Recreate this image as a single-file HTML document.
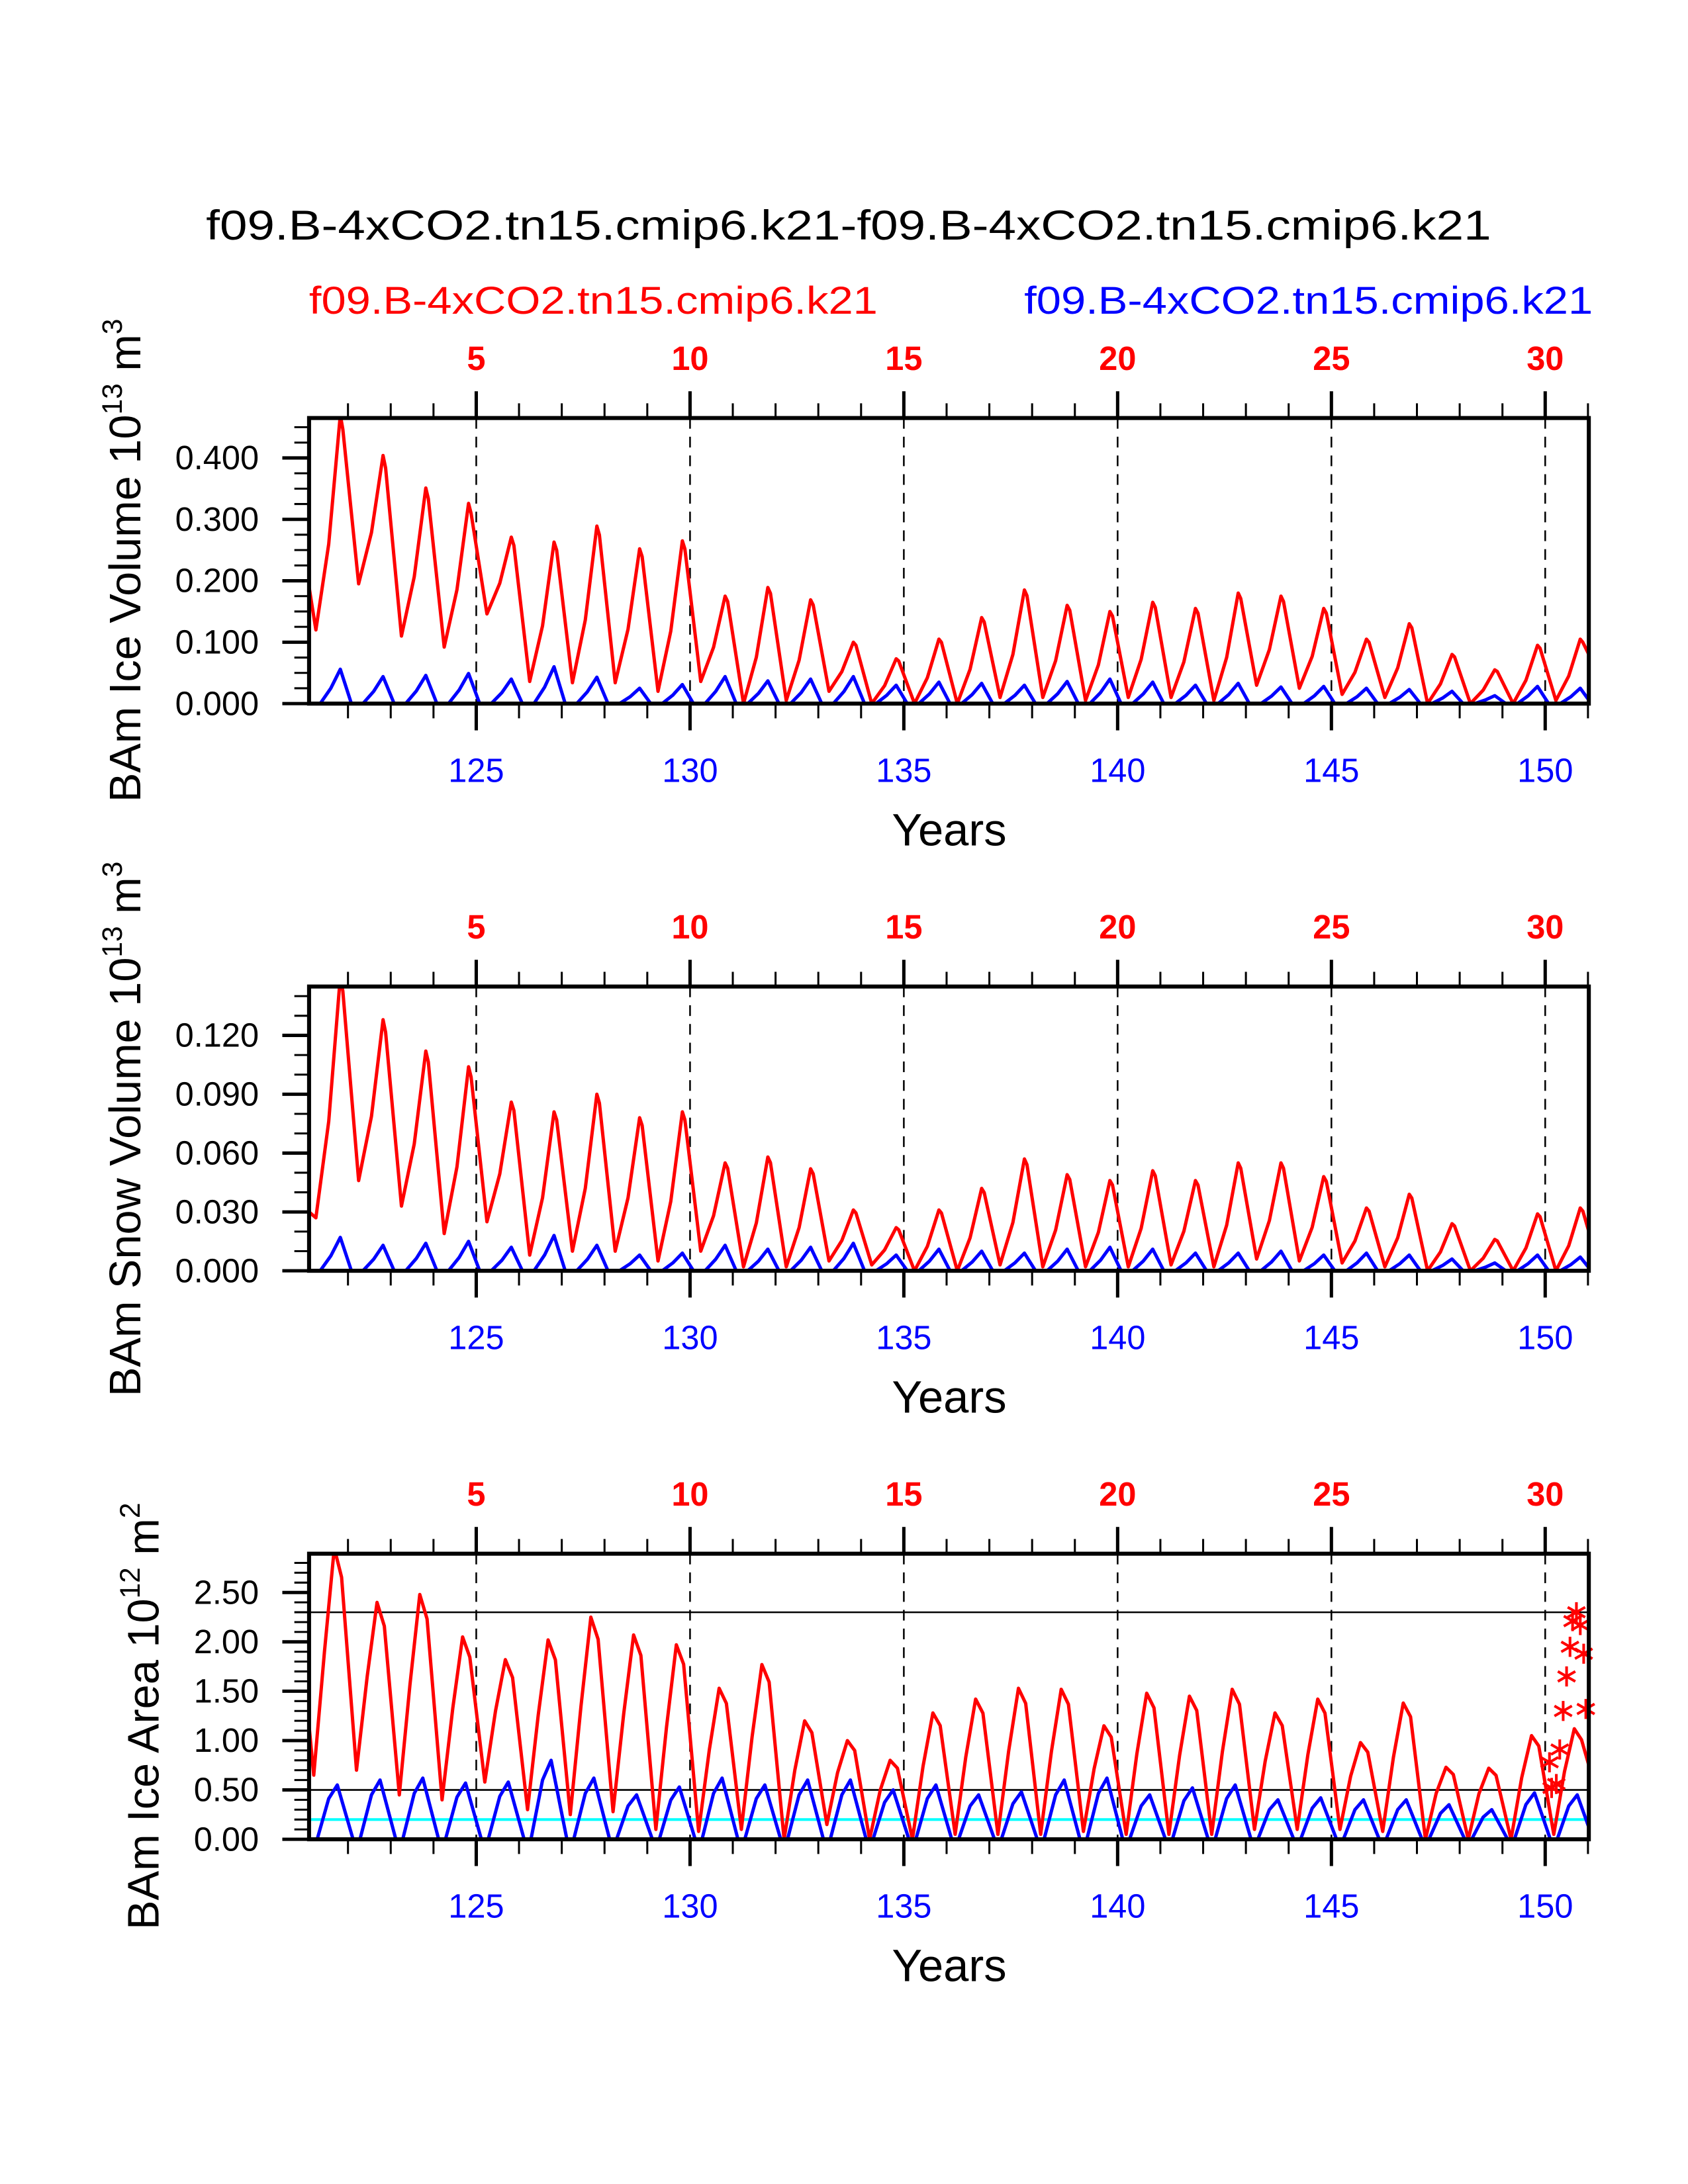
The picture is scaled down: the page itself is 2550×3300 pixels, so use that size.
<!DOCTYPE html>
<html><head><meta charset="utf-8"><style>
html,body{margin:0;padding:0;background:#fff}
svg{display:block;font-family:"Liberation Sans",Arial,sans-serif}
</style></head><body>
<svg id="chart" width="2550" height="3300" viewBox="0 0 2550 3300" xmlns="http://www.w3.org/2000/svg">
<g transform="scale(1.0106)">
<text x="308" y="358" font-size="62" textLength="1921" lengthAdjust="spacingAndGlyphs">f09.B-4xCO2.tn15.cmip6.k21-f09.B-4xCO2.tn15.cmip6.k21</text>
<text x="462" y="469" font-size="58" fill="#ff0000" textLength="850" lengthAdjust="spacingAndGlyphs">f09.B-4xCO2.tn15.cmip6.k21</text>
<text x="1531" y="469" font-size="58" fill="#0000ff" textLength="850" lengthAdjust="spacingAndGlyphs">f09.B-4xCO2.tn15.cmip6.k21</text>
<g id="panels"></g>
</g>
</svg>
<script>
// ---- data ----
const years = [121,122,123,124,125,126,127,128,129,130,131,132,133,134,135,136,137,138,139,140,141,142,143,144,145,146,147,148,149,150];
const volRedMin  = [0.12,0.195,0.11,0.092,0.146,0.036,0.034,0.034,0.02,0.036,0.0,0.005,0.02,0,0,0,0.01,0.01,0.005,0.01,0.01,0.005,0.03,0.025,0.015,0.01,0,0,0,0.005];
const volRedPeak = [0.47,0.404,0.351,0.326,0.271,0.263,0.289,0.252,0.265,0.175,0.189,0.169,0.10,0.073,0.105,0.14,0.185,0.16,0.15,0.165,0.155,0.18,0.175,0.155,0.105,0.13,0.08,0.055,0.095,0.105];
const volBluePeak= [0.056,0.044,0.046,0.049,0.040,0.060,0.043,0.025,0.031,0.044,0.037,0.040,0.044,0.030,0.035,0.033,0.030,0.036,0.040,0.035,0.030,0.033,0.027,0.028,0.025,0.023,0.020,0.013,0.028,0.025];
const volEnds = [0.19,0.08];
const snowRedMin  = [0.027,0.046,0.033,0.019,0.025,0.008,0.01,0.01,0.005,0.01,0.002,0.002,0.005,0.003,0,0,0.003,0.002,0.002,0.002,0.003,0.002,0.006,0.005,0.004,0.002,0,0,0,0];
const snowRedPeak = [0.15,0.128,0.112,0.104,0.086,0.081,0.090,0.078,0.081,0.055,0.058,0.052,0.031,0.022,0.031,0.042,0.057,0.049,0.046,0.051,0.046,0.055,0.055,0.048,0.032,0.039,0.024,0.016,0.029,0.032];
const snowBluePeak= [0.017,0.013,0.014,0.015,0.012,0.018,0.013,0.008,0.009,0.013,0.011,0.012,0.014,0.008,0.011,0.010,0.009,0.011,0.012,0.011,0.009,0.009,0.010,0.008,0.009,0.008,0.006,0.004,0.008,0.007];
const snowEnds = [0.03,0.02];
const areaRedMin  = [0.65,0.7,0.45,0.4,0.58,0.3,0.25,0.28,0.1,0.08,0.1,0.0,0.15,0,0,0.05,0.05,0.05,0.08,0.05,0.05,0.05,0.1,0.1,0.1,0.08,0,0,0,0.05];
const areaRedPeak = [2.95,2.4,2.48,2.05,1.82,2.02,2.25,2.07,1.97,1.53,1.77,1.2,1.0,0.8,1.28,1.42,1.53,1.52,1.15,1.48,1.45,1.52,1.28,1.42,0.98,1.38,0.73,0.72,1.05,1.12];
const areaBluePeak= [0.55,0.6,0.62,0.57,0.58,0.8,0.62,0.45,0.53,0.62,0.55,0.6,0.6,0.5,0.55,0.45,0.48,0.6,0.62,0.45,0.52,0.55,0.4,0.42,0.4,0.4,0.35,0.3,0.47,0.45];
const areaEnds = [1.15,0.75];
const starMonths = [150.10,150.15,150.26,150.34,150.42,150.50,150.58,150.64,150.73,150.82,150.90,150.95];
const starValues = [0.78,0.52,0.56,0.91,1.30,1.65,1.95,2.21,2.30,2.17,1.88,1.32];
const refLines = [2.3,0.5];
const cyanLevel = [0.2];
const topLabels = [5,10,15,20,25,30];
const bottomLabels = [125,130,135,140,145,150];

// ---- layout ----
const NS="http://www.w3.org/2000/svg";
const L=462,R=2375,X0=121.09,X1=151.02;
const xs=t=>L+(t-X0)/(X1-X0)*(R-L);
const root=document.getElementById('panels');
function el(tag,attrs,parent){const e=document.createElementNS(NS,tag);for(const k in attrs)e.setAttribute(k,attrs[k]);(parent||root).appendChild(e);return e;}

const panels=[
 {name:'ice-volume',top:625,bot:1052,ymax:0.465,major:[0,0.1,0.2,0.3,0.4],minor:0.025,fmt:v=>v.toFixed(3),
  redMin:volRedMin,redPeak:volRedPeak,bluePeak:volBluePeak,ends:volEnds,kind:'vol',ylab:'BAm Ice Volume 10',sup1:'13',unit:' m',sup2:'3',ylx:188,yly:838},
 {name:'snow-volume',top:1475,bot:1900,ymax:0.1449,major:[0,0.03,0.06,0.09,0.12],minor:0.01,fmt:v=>v.toFixed(3),
  redMin:snowRedMin,redPeak:snowRedPeak,bluePeak:snowBluePeak,ends:snowEnds,kind:'vol',ylab:'BAm Snow Volume 10',sup1:'13',unit:' m',sup2:'3',ylx:188,yly:1688},
 {name:'ice-area',top:2323,bot:2750,ymax:2.893,major:[0,0.5,1,1.5,2,2.5],minor:0.1,fmt:v=>v.toFixed(2),
  redMin:areaRedMin,redPeak:areaRedPeak,bluePeak:areaBluePeak,ends:areaEnds,kind:'area',ylab:'BAm Ice Area 10',sup1:'12',unit:' m',sup2:'2',ylx:215,yly:2566}
];

panels.forEach((p,pi)=>{
  const g=el('g',{});
  
  
  const ys=v=>p.bot-(v/p.ymax)*(p.bot-p.top);
  const clipId='clip'+pi;
  const cp=el('clipPath',{id:clipId},g); el('rect',{x:L,y:p.top,width:R-L,height:p.bot-p.top},cp);
  bottomLabels.forEach(yr=>{
    const d=el('line',{x1:xs(yr),x2:xs(yr),y1:p.top,y2:p.bot,stroke:'#000','stroke-width':2.5,'stroke-dasharray':'16,12'},g);
    
    
  });
  if(p.kind==='area'){
    refLines.forEach(v=>{const l=el('line',{x1:L,x2:R,y1:ys(v),y2:ys(v),stroke:'#000','stroke-width':2.5},g);
      
      });
    const c=el('line',{x1:L,x2:R,y1:ys(cyanLevel[0]),y2:ys(cyanLevel[0]),stroke:'#00ffff','stroke-width':4},g);
    
    
  }
  const red=[[X0,p.ends[0]]], blue=[[X0,0]];
  years.forEach((yr,i)=>{
    if(p.kind==='area'){
      red.push([yr+0.2,p.redMin[i]]); red.push([yr+0.45,(p.redMin[i]+p.redPeak[i])/2+0.1]);
      red.push([yr+0.68,p.redPeak[i]]); red.push([yr+0.85,p.redPeak[i]*0.9]);
      blue.push([yr+0.28,0]); blue.push([yr+0.55,p.bluePeak[i]*0.75]); blue.push([yr+0.75,p.bluePeak[i]]); blue.push([yr+1.12,0]);
    } else {
      red.push([yr+0.25,p.redMin[i]]); red.push([yr+0.55,(p.redMin[i]*0.6+p.redPeak[i]*0.4)]);
      red.push([yr+0.82,p.redPeak[i]]); red.push([yr+0.88,p.redPeak[i]*0.95]);
      blue.push([yr+0.35,0]); blue.push([yr+0.6,p.bluePeak[i]*0.45]); blue.push([yr+0.82,p.bluePeak[i]]); blue.push([yr+1.08,0]);
    }
  });
  red.push([X1,p.ends[1]]);
  const toD=a=>a.map((q,k)=>(k?'L':'M')+xs(q[0]).toFixed(1)+','+ys(q[1]).toFixed(1)).join('');
  const bl=el('path',{d:toD(blue),fill:'none',stroke:'#0000ff','stroke-width':5,'stroke-linejoin':'round','clip-path':'url(#'+clipId+')'},g);
  
  
  const rl=el('path',{d:toD(red),fill:'none',stroke:'#ff0000','stroke-width':5,'stroke-linejoin':'round','clip-path':'url(#'+clipId+')'},g);
  
  
  if(p.kind==='area'){
    starMonths.forEach((t,k)=>{
      const cx=xs(t), cy=ys(starValues[k]), r=15;
      let d='M'+(cx)+','+(cy-r)+'L'+cx+','+(cy+r);
      d+='M'+(cx-r*0.87)+','+(cy-r/2)+'L'+(cx+r*0.87)+','+(cy+r/2);
      d+='M'+(cx-r*0.87)+','+(cy+r/2)+'L'+(cx+r*0.87)+','+(cy-r/2);
      const s=el('path',{d:d,stroke:'#ff0000','stroke-width':4,fill:'none'},g);
      
      
    });
  }
  const fr=el('rect',{x:L,y:p.top,width:R-L,height:p.bot-p.top,fill:'none',stroke:'#000','stroke-width':6},g);
  
  
  for(let yr=122;yr<=151;yr++){
    const maj=yr%5===0, len=maj?40:22, w=maj?5:3;
    el('line',{x1:xs(yr),x2:xs(yr),y1:p.top,y2:p.top-len,stroke:'#000','stroke-width':w},g);
    el('line',{x1:xs(yr),x2:xs(yr),y1:p.bot,y2:p.bot+len,stroke:'#000','stroke-width':w},g);
  }
  topLabels.forEach(n=>{
    const t=el('text',{x:xs(120+n),y:p.top-72,'font-size':50,'font-weight':'bold',fill:'#ff0000','text-anchor':'middle'},g);
    t.textContent=n;
    
    
  });
  bottomLabels.forEach(n=>{
    const t=el('text',{x:xs(n),y:p.bot+117,'font-size':50,fill:'#0000ff','text-anchor':'middle'},g);
    t.textContent=n;
    
    
  });
  const yt=el('text',{x:1419,y:p.bot+212,'font-size':68,'text-anchor':'middle'},g);
  yt.textContent='Years';
  
  
  for(let v=0;v<=p.ymax+1e-9;v+=p.minor){
    el('line',{x1:L,x2:L-22,y1:ys(v),y2:ys(v),stroke:'#000','stroke-width':3},g);
  }
  p.major.forEach(v=>{
    el('line',{x1:L,x2:L-40,y1:ys(v),y2:ys(v),stroke:'#000','stroke-width':5},g);
    const t=el('text',{x:387,y:ys(v)+17,'font-size':50,'text-anchor':'end'},g);
    t.textContent=p.fmt(v);
    
    
  });
  const tt=el('text',{x:0,y:0,'font-size':66,'text-anchor':'middle',transform:'translate('+(p.ylx+22)+','+p.yly+') rotate(-90)'},g);
  
  
  tt.appendChild(document.createTextNode(p.ylab));
  const s1=el('tspan',{'font-size':42,dy:-28},tt); s1.textContent=p.sup1;
  const u=el('tspan',{dy:28},tt); u.textContent=p.unit;
  const s2=el('tspan',{'font-size':42,dy:-28},tt); s2.textContent=p.sup2;
});
</script>
</body></html>
